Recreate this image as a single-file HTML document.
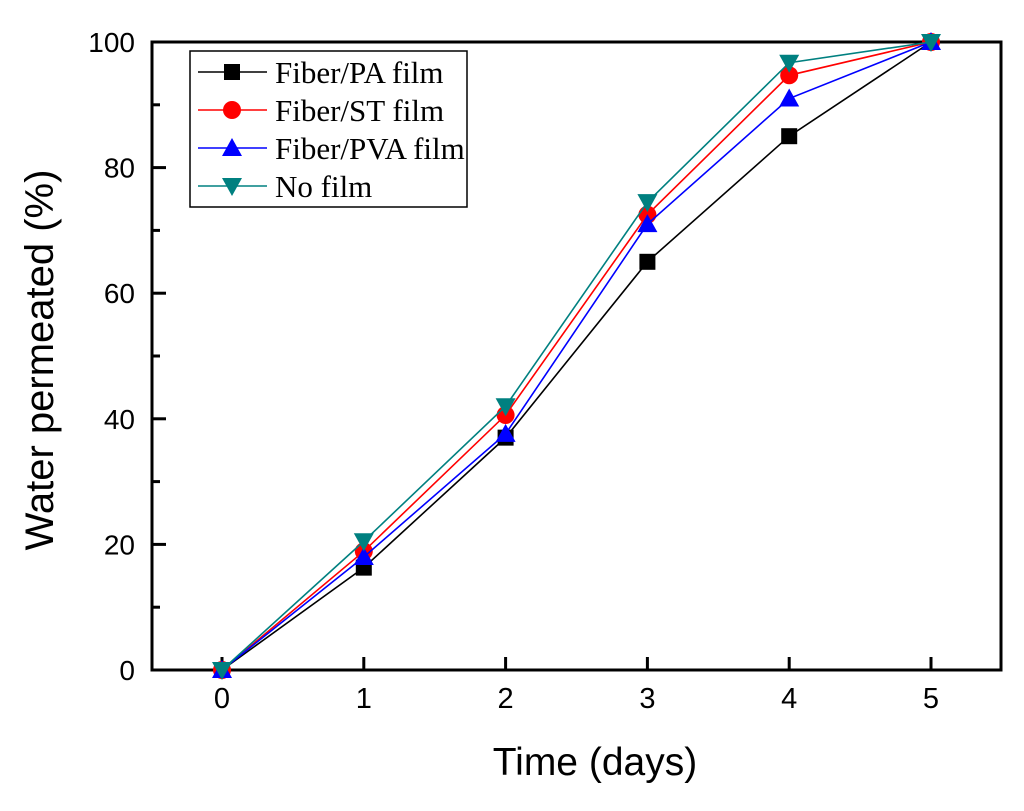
<!DOCTYPE html>
<html><head><meta charset="utf-8"><style>
body{margin:0;background:#fff}
svg text{font-family:"Liberation Sans",Arial,sans-serif}
</style></head><body>
<svg id="chart" width="1024" height="806" xmlns="http://www.w3.org/2000/svg"></svg>
<script>
const categories=[0,1,2,3,4,5];
const paValues=[0,16.3,37,65,85,100];
const stValues=[0,18.9,40.6,72.5,94.7,100];
const pvaValues=[0,18,37.6,71,91,100];
const noFilmValues=[0,20.5,42,74.5,96.7,100];
const xTicks=[0,1,2,3,4,5];
const yTicks=[0,20,40,60,80,100];
const seriesNames=["Fiber/PA film","Fiber/ST film","Fiber/PVA film","No film"];

const NS="http://www.w3.org/2000/svg";
const svg=document.getElementById('chart');
const L=152,R=1001,T=42,B=670;
const x=v=>222+v*141.8;
const y=v=>B-(v/100)*(B-T);
function mk(tag,attrs,parent){const e=document.createElementNS(NS,tag);for(const k in attrs)e.setAttribute(k,attrs[k]);(parent||svg).appendChild(e);return e;}

const frame=mk('rect',{x:L,y:T,width:R-L,height:B-T,fill:'none',stroke:'#000','stroke-width':3});



xTicks.forEach(t=>{
  const l=mk('line',{x1:x(t),x2:x(t),y1:B,y2:B-13,stroke:'#000','stroke-width':3});
  
  
  const tx=mk('text',{x:x(t),y:B+38,'text-anchor':'middle','font-size':29});
  tx.textContent=t;
  
  
});
yTicks.forEach((t,i)=>{
  const l=mk('line',{x1:L,x2:L+14,y1:y(t),y2:y(t),stroke:'#000','stroke-width':3});
  
  
  if(i<yTicks.length-1){
    const m=mk('line',{x1:L,x2:L+8,y1:y(t+10),y2:y(t+10),stroke:'#000','stroke-width':3});
    
    
  }
  const tx=mk('text',{x:L-17,y:y(t)+10,'text-anchor':'end','font-size':28});
  tx.textContent=t;
  
  
});
const xt=mk('text',{x:595,y:775,'text-anchor':'middle','font-size':39});
xt.textContent='Time (days)';


const yt=mk('text',{x:53,y:360,'text-anchor':'middle','font-size':40,transform:'rotate(-90 53 360)'});
yt.textContent='Water permeated (%)';



function marker(type,cx,cy,color,g){
  if(type==='sq')return mk('rect',{x:cx-8,y:cy-8,width:16,height:16,fill:color},g);
  if(type==='ci')return mk('circle',{cx:cx,cy:cy,r:9,fill:color},g);
  if(type==='up')return mk('polygon',{points:`${cx},${cy-10} ${cx-10},${cy+8} ${cx+10},${cy+8}`,fill:color},g);
  return mk('polygon',{points:`${cx},${cy+10} ${cx-10},${cy-8} ${cx+10},${cy-8}`,fill:color},g);
}
const series=[[paValues,'#000','sq'],[stValues,'#ff0000','ci'],[pvaValues,'#0000ff','up'],[noFilmValues,'#008080','dn']];
const names=['series-pa','series-st','series-pva','series-no-film'];
series.forEach(([vals,col,mt],si)=>{
  const g=mk('g',{});
  
  
  mk('polyline',{points:vals.map((v,i)=>x(categories[i])+','+y(v)).join(' '),fill:'none',stroke:col,'stroke-width':1.6},g);
  vals.forEach((v,i)=>{
    const m=marker(mt,x(categories[i]),y(v),col,g);
    
    
  });
});
const lg=mk('g',{});


mk('rect',{x:190,y:51,width:277,height:156,fill:'#fff',stroke:'#000','stroke-width':1.5},lg);
series.forEach(([vals,col,mt],i)=>{
  const cy=72+i*38;
  const e=mk('g',{},lg);
  
  
  mk('line',{x1:198,x2:267,y1:cy,y2:cy,stroke:col,'stroke-width':1.6},e);
  marker(mt,232,cy,col,e);
  const t=mk('text',{x:275,y:cy+11,'font-size':31},e);
  t.setAttribute('style','font-family:"Liberation Serif",serif');
  t.textContent=seriesNames[i];
});
</script>
</body></html>
